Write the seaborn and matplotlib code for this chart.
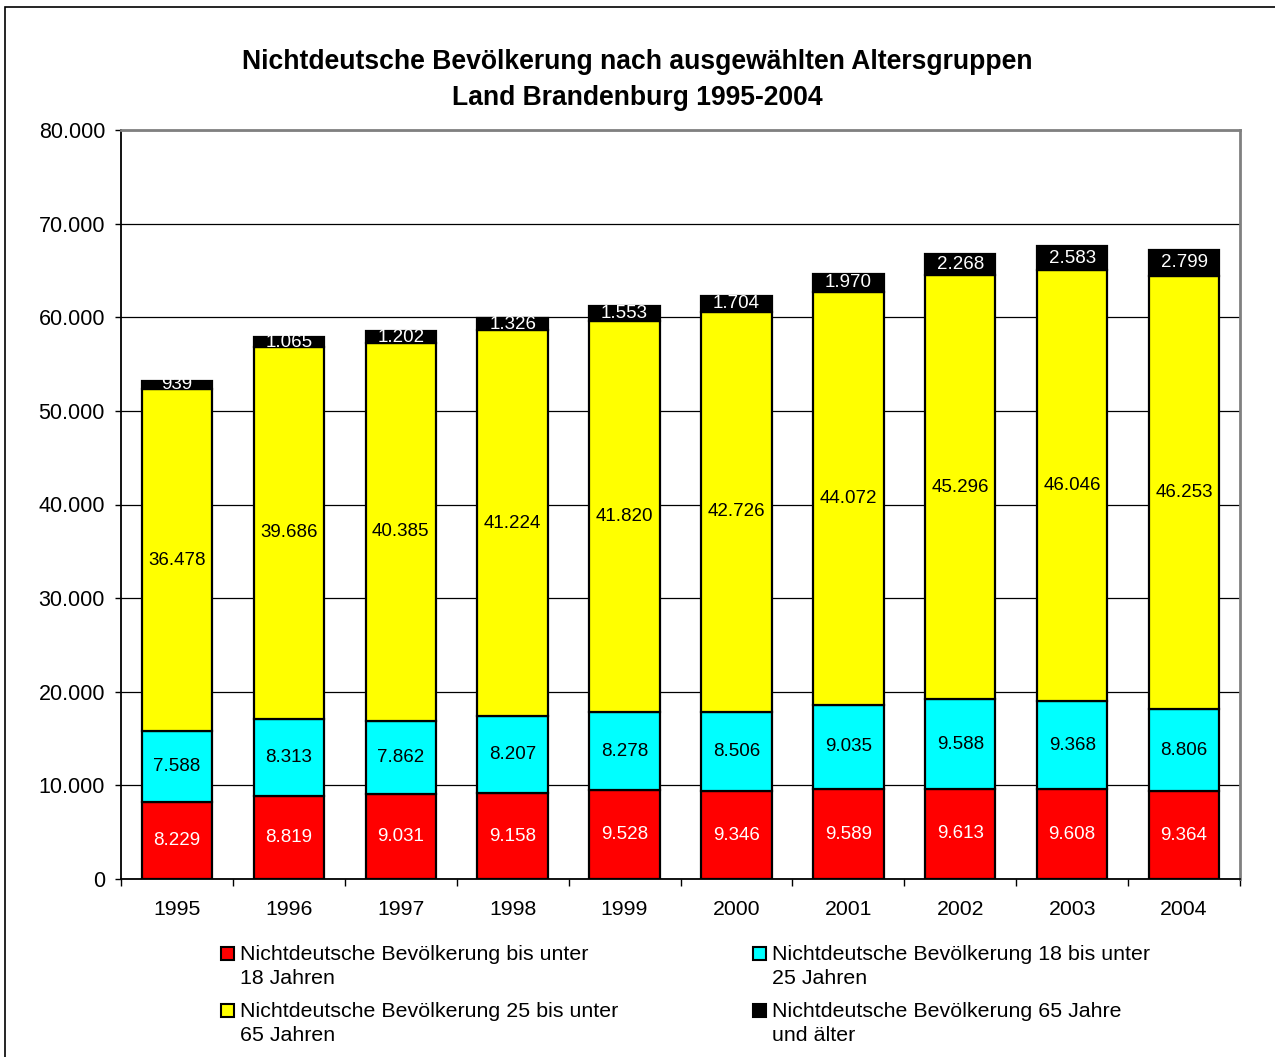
import numpy as np
import pandas as pd
import seaborn as sns
import matplotlib.pyplot as plt
from matplotlib.patches import Rectangle

# --- data ---
years = ["1995", "1996", "1997", "1998", "1999", "2000", "2001", "2002", "2003", "2004"]
unter_18 = [8229, 8819, 9031, 9158, 9528, 9346, 9589, 9613, 9608, 9364]
von_18_bis_25 = [7588, 8313, 7862, 8207, 8278, 8506, 9035, 9588, 9368, 8806]
von_25_bis_65 = [36478, 39686, 40385, 41224, 41820, 42726, 44072, 45296, 46046, 46253]
ab_65 = [939, 1065, 1202, 1326, 1553, 1704, 1970, 2268, 2583, 2799]

series_labels = [
    ["Nichtdeutsche Bevölkerung bis unter", "18 Jahren"],
    ["Nichtdeutsche Bevölkerung 18 bis unter", "25 Jahren"],
    ["Nichtdeutsche Bevölkerung 25 bis unter", "65 Jahren"],
    ["Nichtdeutsche Bevölkerung 65 Jahre", "und älter"],
]
series_values = [unter_18, von_18_bis_25, von_25_bis_65, ab_65]
series_colors = ["#ff0000", "#00ffff", "#ffff00", "#000000"]
label_colors = ["white", "black", "black", "white"]

sns.set_style("white", {"text.color": "black", "xtick.color": "black", "ytick.color": "black"})
plt.rcParams["font.family"] = ["Liberation Sans", "DejaVu Sans"]

W, H = 1275, 1057


def de_fmt(v):
    return f"{int(v):,}".replace(",", ".")


fig = plt.figure(figsize=(W / 100, H / 100), dpi=100)
ax = fig.add_axes([121 / W, 1 - 879 / H, (1240 - 121) / W, (879 - 130) / H])

df = pd.DataFrame({"Jahr": years})
bottom = np.zeros(len(years))
for vals, col, tcol in zip(series_values, series_colors, label_colors):
    df["wert"] = vals
    sns.barplot(data=df, x="Jahr", y="wert", bottom=bottom, color=col, width=0.63,
                edgecolor="black", linewidth=1.6, saturation=1, ax=ax, zorder=3)
    ax.bar_label(ax.containers[-1], labels=[de_fmt(v) for v in vals],
                 label_type="center", color=tcol, fontsize=13.5, zorder=4)
    bottom = bottom + np.array(vals)

ax.set_ylim(0, 80000)
ax.set_xlim(-0.5, 9.5)
yt = np.arange(0, 80001, 10000)
ax.set_yticks(yt)
ax.set_yticklabels([de_fmt(v) for v in yt], fontsize=15.5)
ax.yaxis.grid(True, color="black", linewidth=0.9)
ax.set_axisbelow(True)
ax.tick_params(axis="y", direction="out", length=4.5, width=1, color="black", left=True, pad=7)

# tick marks between categories, labels in the middle
ax.set_xticks(np.arange(-0.5, 10, 1))
ax.set_xticklabels([])
ax.set_xticks(np.arange(10), minor=True)
ax.set_xticklabels(years, minor=True, fontsize=15.3)
ax.tick_params(axis="x", which="major", direction="out", length=5, width=1, color="black", bottom=True)
ax.tick_params(axis="x", which="minor", length=0, pad=15)
ax.set_xlabel("")
ax.set_ylabel("")

for side in ["left", "bottom"]:
    ax.spines[side].set_color("black")
    ax.spines[side].set_linewidth(1.3)
for side in ["top", "right"]:
    ax.spines[side].set_color("#808080")
    ax.spines[side].set_linewidth(2)

fig.text(0.5, 1 - 62 / H, "Nichtdeutsche Bevölkerung nach ausgewählten Altersgruppen",
         ha="center", va="center", fontsize=19.1, fontweight="bold")
fig.text(0.5, 1 - 98 / H, "Land Brandenburg 1995-2004",
         ha="center", va="center", fontsize=19.1, fontweight="bold")

# legend, drawn entry by entry (marker lines up with the first text line)
leg_pos = [(221, 960), (753, 960), (221, 1017), (753, 1017)]
for (x0, base), lines, col in zip(leg_pos, series_labels, series_colors):
    fig.patches.append(Rectangle((x0 / W, 1 - base / H), 13 / W, 13 / H, transform=fig.transFigure,
                                 facecolor=col, edgecolor="black", linewidth=1.5))
    for i, line in enumerate(lines):
        fig.text((x0 + 19) / W, 1 - (base + 24 * i) / H, line, ha="left", va="baseline",
                 fontsize=15.4)

# outer chart frame
fig.patches.append(Rectangle((5 / W, -0.01), 1.0, 1 - 7 / H + 0.01, transform=fig.transFigure,
                             fill=False, edgecolor="black", linewidth=1.2))

fig.savefig("out.png", dpi=100)
